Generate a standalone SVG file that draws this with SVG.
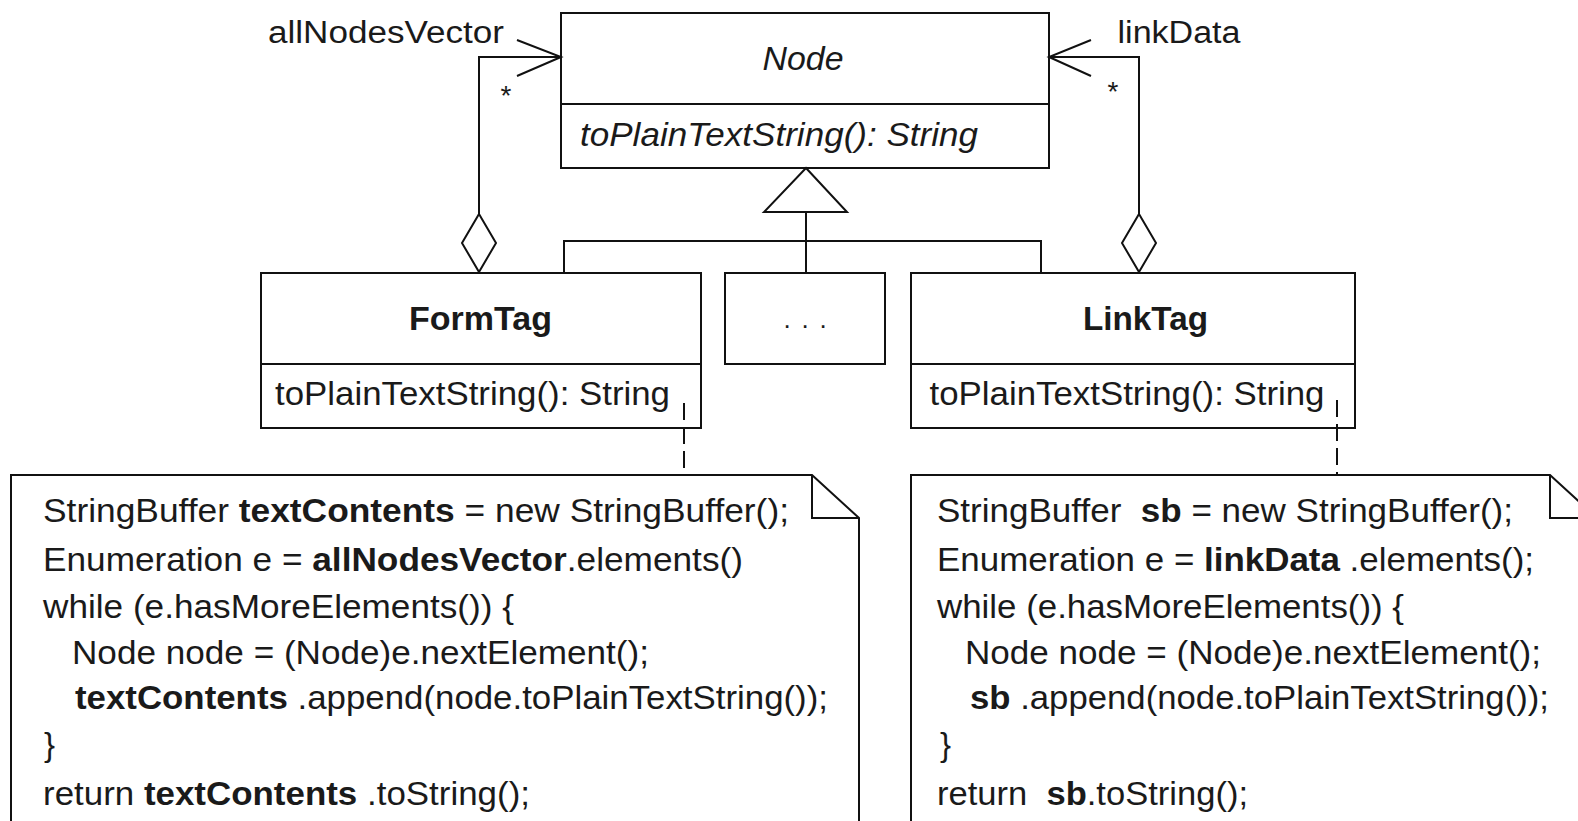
<svg xmlns="http://www.w3.org/2000/svg" width="1578" height="821" viewBox="0 0 1578 821">
<style>
  .box { fill: #ffffff; stroke: #111; stroke-width: 2; }
  .ln { fill: none; stroke: #111; stroke-width: 2; }
  .dash { fill: none; stroke: #111; stroke-width: 2; stroke-dasharray: 17 7; }
  .t { font-family: "Liberation Sans", Arial, Helvetica, sans-serif; fill: #1a1a1a; }
  .code { font-size: 33px; }
  .b { font-weight: bold; }
  .i { font-style: italic; }
</style>
<rect x="0" y="0" width="1578" height="821" fill="#ffffff"/>

<g id="node-Node">
  <rect class="box" x="561" y="13" width="488" height="155"/>
  <line class="ln" x1="561" y1="104" x2="1049" y2="104"/>
  <text class="t i" x="803" y="70" font-size="33" text-anchor="middle" textLength="81" lengthAdjust="spacingAndGlyphs">Node</text>
  <text class="t i" x="580" y="146" font-size="33" textLength="398" lengthAdjust="spacingAndGlyphs">toPlainTextString(): String</text>
</g>

<g id="node-FormTag">
  <rect class="box" x="261" y="273" width="440" height="155"/>
  <line class="ln" x1="261" y1="364" x2="701" y2="364"/>
  <text class="t b" x="409" y="330" font-size="33" textLength="143" lengthAdjust="spacingAndGlyphs">FormTag</text>
  <text class="t" x="275" y="405" font-size="33" textLength="395" lengthAdjust="spacingAndGlyphs">toPlainTextString(): String</text>
</g>

<g id="node-Others">
  <rect class="box" x="725" y="273" width="160" height="91"/>
  <text class="t" x="787 805 823" y="328" font-size="26" fill="#555" text-anchor="middle">...</text>
</g>

<g id="node-LinkTag">
  <rect class="box" x="911" y="273" width="444" height="155"/>
  <line class="ln" x1="911" y1="364" x2="1355" y2="364"/>
  <text class="t b" x="1083" y="330" font-size="33" textLength="125" lengthAdjust="spacingAndGlyphs">LinkTag</text>
  <text class="t" x="929.5" y="405" font-size="33" textLength="395" lengthAdjust="spacingAndGlyphs">toPlainTextString(): String</text>
</g>

<g id="note-FormTag">
  <path class="box" d="M11,830 V475 H812 L859,518 V830"/>
  <path class="ln" d="M812,475 V518 H859"/>
  <text class="t code" x="43" y="522" textLength="746" lengthAdjust="spacingAndGlyphs">StringBuffer <tspan class="b">textContents</tspan> = new StringBuffer();</text>
  <text class="t code" x="43" y="571" textLength="700" lengthAdjust="spacingAndGlyphs">Enumeration e = <tspan class="b">allNodesVector</tspan>.elements()</text>
  <text class="t code" x="43" y="618" textLength="471" lengthAdjust="spacingAndGlyphs">while (e.hasMoreElements()) {</text>
  <text class="t code" x="72" y="664" textLength="577" lengthAdjust="spacingAndGlyphs">Node node = (Node)e.nextElement();</text>
  <text class="t code" x="75" y="709" textLength="753" lengthAdjust="spacingAndGlyphs"><tspan class="b">textContents</tspan> .append(node.toPlainTextString());</text>
  <text class="t code" x="44" y="756">}</text>
  <text class="t code" x="43" y="805" textLength="487" lengthAdjust="spacingAndGlyphs">return <tspan class="b">textContents</tspan> .toString();</text>
</g>

<g id="note-LinkTag">
  <path class="box" d="M911,830 V475 H1550 L1597,518 V830"/>
  <path class="ln" d="M1550,475 V518 H1597"/>
  <text class="t code" x="937" y="522" textLength="576" lengthAdjust="spacingAndGlyphs" xml:space="preserve">StringBuffer  <tspan class="b">sb</tspan> = new StringBuffer();</text>
  <text class="t code" x="937" y="571" textLength="597" lengthAdjust="spacingAndGlyphs">Enumeration e = <tspan class="b">linkData</tspan> .elements();</text>
  <text class="t code" x="937" y="618" textLength="467" lengthAdjust="spacingAndGlyphs">while (e.hasMoreElements()) {</text>
  <text class="t code" x="965" y="664" textLength="576" lengthAdjust="spacingAndGlyphs">Node node = (Node)e.nextElement();</text>
  <text class="t code" x="970" y="709" textLength="579" lengthAdjust="spacingAndGlyphs"><tspan class="b">sb</tspan> .append(node.toPlainTextString());</text>
  <text class="t code" x="940" y="756">}</text>
  <text class="t code" x="937" y="805" textLength="311" lengthAdjust="spacingAndGlyphs" xml:space="preserve">return  <tspan class="b">sb</tspan>.toString();</text>
</g>

<g id="connectors">
  <!-- allNodesVector aggregation -->
  <path class="ln" d="M479,214 V57 H561"/>
  <path class="ln" d="M517,40 L561,57 L517,76"/>
  <path class="box" d="M479,214 L496,243 L479,272 L462,243 Z"/>
  <text class="t" x="268" y="43" font-size="31" textLength="236" lengthAdjust="spacingAndGlyphs">allNodesVector</text>
  <text class="t" x="506" y="105" font-size="28" text-anchor="middle">*</text>

  <!-- linkData aggregation -->
  <path class="ln" d="M1139,214 V57 H1049"/>
  <path class="ln" d="M1091,40 L1049,57 L1091,76"/>
  <path class="box" d="M1139,214 L1156,243 L1139,272 L1122,243 Z"/>
  <text class="t" x="1117.5" y="43" font-size="31" textLength="123" lengthAdjust="spacingAndGlyphs">linkData</text>
  <text class="t" x="1113" y="101" font-size="28" text-anchor="middle">*</text>

  <!-- generalization -->
  <path class="box" d="M806,168 L847,212 L764,212 Z"/>
  <path class="ln" d="M806,212 V273"/>
  <path class="ln" d="M564,273 V241 H1041 V273"/>

  <!-- note anchors -->
  <line class="dash" x1="684" y1="403" x2="684" y2="474"/>
  <line class="dash" x1="1337" y1="400" x2="1337" y2="474"/>
</g>
</svg>
